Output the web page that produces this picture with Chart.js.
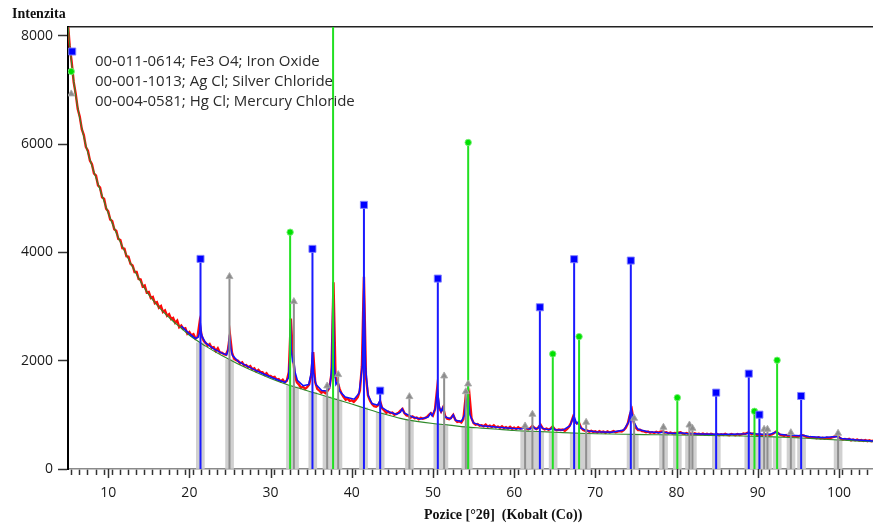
<!DOCTYPE html>
<html>
<head>
<meta charset="utf-8">
<script src="https://cdn.jsdelivr.net/npm/chart.js@4.4.1/dist/chart.umd.min.js"></script>
<style>
  html, body { margin: 0; padding: 0; background: #fff; }
  #wrap { position: relative; width: 873px; height: 528px; overflow: hidden; }
  #plot { position: absolute; left: 0; top: 0; }
  .serif { position: absolute; font-family: 'Liberation Serif', 'DejaVu Serif', serif; font-weight: bold; font-size: 14px; line-height: 14px; color: #111; white-space: pre; }
  #ytitle { left: 12px; top: 7px; }
  #xtitle { left: 424px; top: 508px; }
  #phases { position: absolute; left: 95px; top: 50px; font-family: 'Open Sans', sans-serif; font-size: 15px; line-height: 20.2px; color: #2b2b2b; white-space: pre; }
</style>
</head>
<body>
<div id="wrap">
  <canvas id="plot" width="873" height="528"></canvas>
  <div id="ytitle" class="serif">Intenzita</div>
  <div id="xtitle" class="serif">Pozice [°2θ]  (Kobalt (Co))</div>
  <div id="phases"></div>
</div>
<script>
// Reference pattern names shown in the key
const phaseNames = [
  '00-011-0614; Fe3 O4; Iron Oxide',
  '00-001-1013; Ag Cl; Silver Chloride',
  '00-004-0581; Hg Cl; Mercury Chloride'
];

// Axis ticks
const xTickLabels = [10, 20, 30, 40, 50, 60, 70, 80, 90, 100];
const yTickLabels = [0, 2000, 4000, 6000, 8000];

// Measured intensity, sampled every 0.25 °2θ starting at 5.00
const measStart = 5.0;
const measStep = 0.25;
const measCounts = [
  8320, 7830, 7520, 7150,  6930, 6650, 6510, 6280,  6170, 5950, 5880, 5700,  5630, 5460, 5420, 5240,
  5200, 5020, 4990, 4810,  4760, 4610, 4580, 4430,  4400, 4250, 4230, 4080,  4070, 3930, 3920, 3790,
  3760, 3640, 3640, 3510,  3500, 3370, 3390, 3260,  3270, 3160, 3180, 3060,  3080, 2980, 3010, 2900,
  2930, 2830, 2860, 2770,  2790, 2700, 2740, 2620,  2650, 2590, 2600, 2500,  2530, 2470, 2490, 2410,
  2440, 2700, 2470, 2370,  2330, 2280, 2310, 2240,  2250, 2180, 2230, 2150,  2150, 2120, 2110, 2200,
  2480, 2150, 2040, 2010,  2000, 1950, 1970, 1910,  1920, 1880, 1900, 1840,  1860, 1800, 1830, 1790,
  1790, 1740, 1770, 1720,  1720, 1690, 1700, 1650,  1660, 1620, 1650, 1600,  1630, 1790, 2780, 2090,
  1720, 1600, 1560, 1500,  1520, 1480, 1510, 1560,  1720, 2160, 1600, 1480,  1450, 1410, 1430, 1400,
  1440, 1500, 1760, 3450,  1700, 1610, 1480, 1390,  1330, 1280, 1300, 1260,  1270, 1240, 1280, 1330,
  1450, 1900, 3550, 1700,  1360, 1260, 1200, 1160,  1150, 1180, 1250, 1120,  1080, 1040, 1060, 1030,
  1040, 1000, 1020, 1040,  1080, 1110, 1030, 990,   980, 950, 970, 940,      950, 920, 945, 930,
  940, 960, 1000, 1030,    990, 1100, 1460, 1130,   1060, 1140, 980, 930,    920, 950, 1000, 910,
  870, 880, 860, 920,      1290, 1180, 1360, 940,   850, 820, 830, 800,      810, 790, 820, 785,
  800, 775, 805, 770,      785, 760, 790, 755,      775, 750, 780, 745,      765, 740, 770, 745,
  760, 785, 750, 735,      755, 795, 760, 740,      770, 820, 755, 730,      745, 725, 750, 785,
  735, 715, 730, 720,      730, 705, 735, 780,      850, 960, 870, 840,      850, 760, 720, 705,
  710, 690, 705, 685,      695, 675, 700, 680,      690, 670, 695, 675,      685, 700, 680, 690,
  700, 695, 720, 760,      840, 1000, 1090, 850,    760, 720, 725, 700,      695, 680, 690, 670,
  680, 665, 685, 670,      690, 695, 670, 680,      660, 675, 655, 665,      660, 670, 680, 655,
  650, 665, 645, 655,      640, 660, 645, 650,      640, 655, 635, 650,      630, 650, 640, 635,
  645, 625, 640, 630,      650, 630, 625, 645,      635, 625, 645, 630,      640, 655, 650, 670,
  665, 645, 660, 640,      625, 640, 630, 620,      635, 615, 630, 640,      660, 690, 665, 635,
  620, 610, 625, 605,      615, 600, 610, 595,      600, 615, 625, 610,      595, 580, 590, 575,
  580, 570, 585, 565,      575, 560, 580, 570,      575, 590, 600, 615,      590, 560, 545, 555,
  540, 555, 530, 545,      530, 545, 525, 535,      520, 535, 515, 530,      515, 525
];

// Fitted profile
const fitTheta = [19, 20, 20.75, 21.1, 21.25, 21.35, 21.45, 21.6, 22, 23,
  24, 24.6, 24.8, 24.95, 25.1, 25.3, 26, 27, 28, 29,
  30, 31, 31.8, 32.2, 32.35, 32.45, 32.55, 32.7, 32.85, 33,
  33.3, 34, 34.7, 35, 35.15, 35.3, 35.6, 36.3, 36.9, 37.3,
  37.55, 37.7, 37.85, 38.05, 38.3, 38.5, 39.2, 40.3, 40.9, 41.3,
  41.5, 41.7, 42, 42.5, 43.2, 43.45, 43.7, 44.5, 45.5, 46,
  46.2, 46.5, 47.5, 48.5, 49.4, 49.7, 49.9, 50.3, 50.55, 50.8,
  51, 51.2, 51.5, 52.2, 52.5, 52.8, 53.5, 53.9, 54.05, 54.2,
  54.35, 54.55, 55, 56, 58, 60, 61, 61.3, 61.6, 62,
  62.3, 62.6, 62.9, 63.2, 63.5, 64, 64.5, 64.75, 65, 66,
  66.9, 67.35, 67.7, 67.9, 68.2, 69, 70, 72, 73.5, 74.1,
  74.4, 74.7, 75.2, 75.6, 76.5, 78, 78.3, 79, 80, 80.5,
  81.2, 83, 85, 87, 88.5, 88.9, 89.5, 90.5, 91.5, 92.3,
  92.7, 93.5, 95.3, 95.6, 96.3, 98, 99.8, 100.3, 102, 104.2];
const fitCounts = [2640, 2500, 2410, 2440, 2520, 2700, 2520, 2440, 2330, 2220,
  2140, 2110, 2220, 2480, 2230, 2100, 1990, 1910, 1835, 1765,
  1700, 1640, 1600, 1680, 2000, 2760, 2200, 2000, 2060, 1800,
  1640, 1540, 1560, 1780, 2160, 1780, 1560, 1450, 1440, 1520,
  1900, 3450, 1900, 1560, 1620, 1440, 1330, 1290, 1400, 1900,
  3550, 1900, 1370, 1210, 1180, 1260, 1140, 1060, 1010, 1050,
  1110, 1030, 960, 925, 960, 1030, 980, 1120, 1460, 1150,
  1060, 1130, 960, 930, 1000, 900, 880, 1000, 1300, 1150,
  1370, 1000, 850, 800, 770, 750, 745, 780, 748, 740,
  790, 742, 750, 815, 750, 735, 730, 780, 725, 720,
  800, 990, 840, 870, 760, 705, 690, 680, 720, 870,
  1130, 880, 740, 720, 690, 670, 685, 665, 655, 670,
  655, 645, 640, 640, 650, 665, 650, 640, 640, 685,
  640, 628, 615, 622, 600, 580, 600, 565, 540, 515];

// Background
const bgTheta = [5, 5.25, 5.5, 5.75, 6, 6.5, 7, 7.5, 8, 9, 10, 11, 12, 13, 14, 15, 16, 17, 18, 19, 20,
  22, 24, 26, 28, 30, 32, 34, 36, 38, 40, 42, 44, 46, 48, 50, 52, 54, 56, 58, 60, 62, 64, 66, 68, 70,
  72, 74, 76, 78, 80, 82, 84, 86, 88, 90, 92, 94, 96, 98, 100, 102, 104.2];
const bgCounts = [8300, 7850, 7480, 7170, 6900, 6480, 6130, 5840, 5600, 5160, 4730, 4360, 4030, 3730, 3460, 3220, 3030, 2870, 2730, 2600, 2470,
  2270, 2095, 1940, 1800, 1673, 1562, 1470, 1380, 1290, 1200, 1105, 1015, 935, 880, 840, 810, 778, 755, 733, 712, 698, 686, 672, 660, 652,
  646, 641, 636, 632, 628, 624, 620, 615, 609, 602, 593, 582, 568, 552, 536, 520, 505];

// Peak-list regions (shaded)
const peakTheta = [21.35, 24.95, 32.45, 32.95, 35.2, 36.95, 37.7, 38.3, 41.45, 43.5, 47.1, 50.6, 51.35,
  54.05, 54.35, 61.3, 62.25, 63.15, 64.8, 67.4, 68.0, 68.9, 74.4, 74.8, 78.4, 80.1, 81.6, 81.95,
  84.9, 88.9, 89.6, 90.2, 90.8, 91.2, 92.4, 94.1, 95.4, 99.9];
const peakBase = [2330, 2020, 1540, 1517, 1416, 1337, 1303, 1277, 1133, 1038, 903, 831, 820,
  777, 774, 703, 697, 691, 680, 664, 660, 656, 640, 639, 631, 628, 625, 624,
  617, 606, 604, 601, 599, 597, 591, 581, 572, 537];

// Reference patterns: Fe3O4, AgCl, HgCl
const feTheta = [5.57, 21.37, 35.16, 41.5, 43.5, 50.6, 63.17, 67.39, 74.37, 84.88, 88.9, 90.21, 95.35];
const feInt   = [7713, 3882, 4067, 4880, 1448, 3518, 2988, 3876, 3851, 1411, 1762, 1004, 1349];
const agTheta = [5.45, 32.41, 37.7, 54.34, 64.76, 68.0, 80.1, 89.6, 92.39];
const agInt   = [7344, 4375, 12000, 6032, 2126, 2446, 1318, 1066, 2009];
const hgTheta = [5.45, 24.94, 32.87, 36.97, 38.33, 47.1, 51.38, 54.05, 54.33, 61.35, 62.25, 68.87,
  74.78, 78.39, 81.59, 81.96, 90.79, 91.2, 94.08, 99.9];
const hgInt   = [6930, 3555, 3093, 1534, 1744, 1337, 1719, 1429, 1571, 795, 1011, 863,
  937, 771, 813, 752, 734, 734, 671, 660];

document.getElementById('phases').textContent = phaseNames.join('\n');

const X_MIN = 5.05, X_MAX = 104.2, Y_MAX = 8166;
// reflections below this angle sit at the left edge: marker only, no stem
const STEM_FROM = 6;

const pairs = (xs, ys) => xs.map((x, i) => ({ x: x, y: ys[i] }));
const sticks = (xs, ys) => xs.flatMap((x, i) => x < STEM_FROM ? [] : [{ x: x, y: 0 }, { x: x, y: ys[i] }, { x: x, y: null }]);

const majorTicks = {
  id: 'majorTicks',
  afterDraw(chart) {
    const { ctx, chartArea, scales } = chart;
    ctx.save();
    ctx.strokeStyle = '#333';
    ctx.lineWidth = 1.5;
    xTickLabels.forEach(v => {
      const px = Math.round(scales.x.getPixelForValue(v)) + 0.5;
      ctx.beginPath();
      ctx.moveTo(px, chartArea.bottom);
      ctx.lineTo(px, chartArea.bottom + 9);
      ctx.stroke();
    });
    ctx.restore();
  }
};

// horizontal axes run edge to edge: no extra room for end labels
const noSidePadding = s => { s.paddingLeft = 0; s.paddingRight = 0; };

Chart.defaults.font.family = "'Open Sans', sans-serif";
Chart.defaults.font.size = 14;
Chart.defaults.color = '#1a1a1a';

new Chart(document.getElementById('plot'), {
  type: 'line',
  data: {
    datasets: [
      { label: 'Fe3O4 markers', data: pairs(feTheta, feInt), showLine: false, order: 0,
        pointStyle: 'rect', pointRadius: 5, pointBackgroundColor: '#0000ff', pointBorderColor: 'rgba(130,130,255,0.9)', pointBorderWidth: 1 },
      { label: 'AgCl markers', data: pairs(agTheta, agInt), showLine: false, order: 0,
        pointStyle: 'circle', pointRadius: 3.2, pointBackgroundColor: '#00e000', pointBorderColor: 'rgba(120,240,120,0.9)', pointBorderWidth: 1 },
      { label: 'HgCl markers', data: pairs(hgTheta, hgInt), showLine: false, order: 0,
        pointStyle: 'triangle', pointRadius: 4, pointBackgroundColor: '#8c8c8c', pointBorderColor: 'rgba(170,170,170,0.9)', pointBorderWidth: 1 },
      { label: 'Fe3O4', data: sticks(feTheta, feInt), order: 1, borderColor: '#1a1aff', borderWidth: 2, pointRadius: 0, spanGaps: false },
      { label: 'AgCl', data: sticks(agTheta, agInt), order: 1, borderColor: '#22e022', borderWidth: 2, pointRadius: 0, spanGaps: false },
      { label: 'HgCl', data: sticks(hgTheta, hgInt), order: 1, borderColor: '#8f8f8f', borderWidth: 2, pointRadius: 0, spanGaps: false },
      { label: 'Fit', data: pairs(fitTheta, fitCounts), order: 2, borderColor: '#1010ff', borderWidth: 1.5, pointRadius: 0, tension: 0 },
      { label: 'Background', data: pairs(bgTheta, bgCounts), order: 3, borderColor: '#2f8a2a', borderWidth: 1.1, pointRadius: 0, cubicInterpolationMode: 'monotone' },
      { label: 'Measured', data: measCounts.map((c, i) => ({ x: measStart + i * measStep, y: c })), order: 4,
        borderColor: '#ff0a0a', borderWidth: 2.4, pointRadius: 0, tension: 0 },
      { type: 'bar', label: 'Peaks', data: pairs(peakTheta, peakBase), order: 5,
        backgroundColor: 'rgb(208,208,208)', borderWidth: 0, barThickness: 8, grouped: false }
    ]
  },
  options: {
    responsive: false,
    animation: false,
    devicePixelRatio: 1,
    events: [],
    layout: { autoPadding: false, padding: { top: 27, right: 0, bottom: 0, left: 0 } },
    plugins: { legend: { display: false }, tooltip: { enabled: false } },
    scales: {
      x: {
        type: 'linear', position: 'bottom', min: X_MIN, max: X_MAX, offset: false,
        afterBuildTicks: axis => {
          const t = [];
          for (let v = 6; v <= 104; v++) t.push({ value: v });
          axis.ticks = t;
        },
        afterFit: s => { s.height = 59; noSidePadding(s); },
        ticks: { autoSkip: false, maxRotation: 0, padding: 10,
          callback: v => xTickLabels.includes(v) ? String(v) : '' },
        grid: { display: true, drawOnChartArea: false, drawTicks: true, tickLength: 6, tickColor: '#333', tickWidth: 1.5 },
        border: { display: true, color: '#8a8a8a', width: 1.5 }
      },
      xTop: {
        type: 'linear', position: 'top', min: X_MIN, max: X_MAX,
        afterFit: s => { s.height = 0; noSidePadding(s); },
        ticks: { display: false },
        grid: { display: false, drawTicks: false },
        border: { display: true, color: '#222', width: 1.5 }
      },
      y: {
        type: 'linear', min: 0, max: Y_MAX,
        afterBuildTicks: axis => { axis.ticks = yTickLabels.map(v => ({ value: v })); },
        afterFit: s => { s.width = 68; },
        ticks: { padding: 5, callback: v => String(v) },
        grid: { display: true, drawOnChartArea: false, drawTicks: true, tickLength: 10, tickColor: '#333', tickWidth: 1.5 },
        border: { display: true, color: '#000', width: 2 }
      }
    }
  },
  plugins: [majorTicks]
});
</script>
</body>
</html>
